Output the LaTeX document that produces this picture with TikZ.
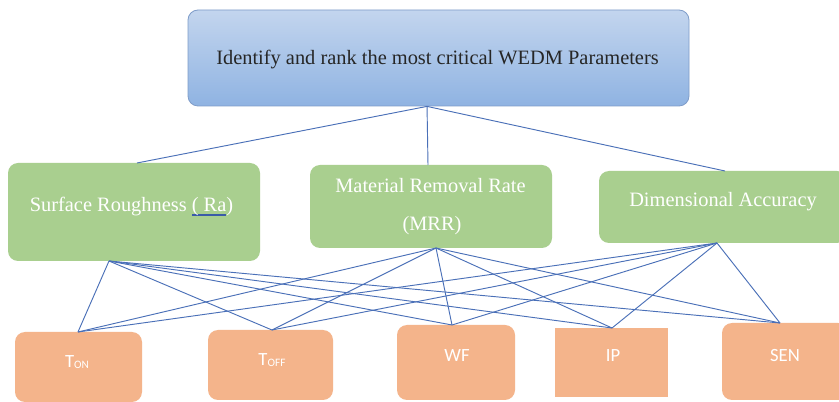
\documentclass[tikz,border=0pt]{standalone}
\usepackage{fontspec}
\setmainfont{Liberation Serif}
\newfontfamily\calibrifont{Carlito}

\definecolor{topA}{HTML}{C3D5EE}
\definecolor{topB}{HTML}{8FB3E2}
\definecolor{topedge}{HTML}{7E9CC9}
\definecolor{greenfill}{HTML}{A9CF8F}
\definecolor{orangefill}{HTML}{F4B48B}
\definecolor{linkblue}{HTML}{4A70B8}
\definecolor{ulblue}{HTML}{3A5BA8}

% spell-check style double underline
\newlength\ulwidth
\newcommand\spellul[1]{\settowidth{\ulwidth}{#1}%
  \rlap{\textcolor{ulblue}{\rule[-1.6pt]{\ulwidth}{0.45pt}}}%
  \rlap{\textcolor{ulblue}{\rule[-2.95pt]{\ulwidth}{0.45pt}}}#1}
\newcommand\subcaps[1]{\raisebox{-0.5pt}{\fontsize{8.5pt}{9pt}\selectfont #1}}

\begin{document}
\begin{tikzpicture}[x=0.75pt,y=-0.75pt,
  topbox/.style={rectangle, rounded corners=7.5pt, draw=topedge, line width=0.6pt,
    top color=topA, bottom color=topB, inner sep=0pt},
  greenbox/.style={rectangle, rounded corners=7.5pt, fill=greenfill, inner sep=0pt, outer sep=0pt},
  orangebox/.style={rectangle, rounded corners=7.5pt, fill=orangefill, inner sep=0pt, outer sep=0pt},
  squarebox/.style={rectangle, fill=orangefill, inner sep=0pt, outer sep=0pt},
  toptext/.style={font=\fontsize{15.3pt}{18pt}\selectfont, text=black!85, anchor=base, inner sep=0pt},
  greentext/.style={font=\fontsize{15.3pt}{18pt}\selectfont, text=white, anchor=base, inner sep=0pt},
  orangetext/.style={font=\calibrifont\fontsize{14pt}{16pt}\selectfont, text=white, anchor=base, inner sep=0pt},
  link/.style={draw=linkblue, line width=0.7pt}]

\fill[white] (0,0) rectangle (839,402);
\useasboundingbox (0,0) rectangle (839,402);

% goal
\node[topbox, minimum width=375.75pt, minimum height=72pt] (goal) at (438.5,58) {};
\node[toptext] (goaltext) at (437.5,65) {Identify and rank the most critical WEDM Parameters};

% responses
\node[greenbox, minimum width=189pt, minimum height=73.5pt] (sr) at (134,212) {};
\node[greenbox, minimum width=181.5pt, minimum height=62.25pt] (mrr) at (431,206.5) {};
\node[greenbox, minimum width=186pt, minimum height=54pt] (da) at (723,207) {};
\node[greentext] (srtext) at (131.5,212) {Surface Roughness \spellul{( Ra})};
\node[greentext] (mrrtextA) at (430.5,193) {Material Removal Rate};
\node[greentext] (mrrtextB) at (432,231) {(MRR)};
\node[greentext] (datext) at (723,207) {Dimensional Accuracy};

% process parameters
\node[orangebox, minimum width=95.25pt, minimum height=52.5pt] (ton) at (78.5,367) {};
\node[orangebox, minimum width=93.75pt, minimum height=52.5pt] (toff) at (270.5,365) {};
\node[orangebox, minimum width=88.5pt, minimum height=56.25pt] (wf) at (456,362.5) {};
\node[squarebox, minimum width=84.75pt, minimum height=51.75pt] (ip) at (611.5,362.5) {};
\node[orangebox, minimum width=94.5pt, minimum height=57.75pt] (sen) at (785,361.5) {};
\node[orangetext] (tontext) at (77,368) {T\subcaps{ON}};
\node[orangetext] (tofftext) at (272,366) {T\subcaps{OFF}};
\node[orangetext] (wftext) at (457,362) {WF};
\node[orangetext] (iptext) at (613,362) {IP};
\node[orangetext] (sentext) at (785,362) {SEN};

% attachment points
\coordinate (goalB) at ([xshift=-8.6pt]goal.south);
\coordinate (srT) at ([xshift=2.25pt]sr.north);
\coordinate (mrrT) at ([xshift=-2.25pt]mrr.north);
\coordinate (daT) at ([xshift=1.5pt]da.north);
\coordinate (srB) at ([xshift=-18.75pt]sr.south);
\coordinate (mrrB) at ([xshift=3.75pt]mrr.south);
\coordinate (daB) at ([xshift=-4.5pt]da.south);
\coordinate (tonT) at ([xshift=-0.4pt]ton.north);
\coordinate (toffT) at ([xshift=1.1pt]toff.north);
\coordinate (wfT) at ([xshift=-3pt]wf.north);
\coordinate (ipT) at ([xshift=0.4pt]ip.north);
\coordinate (senT) at ([xshift=-3.75pt]sen.north);

% connectors
\foreach \r in {srT,mrrT,daT} \draw[link] (goalB) -- (\r);
\foreach \r in {srB,mrrB,daB}
  \foreach \p in {tonT,toffT,wfT,ipT,senT}
    \draw[link] (\r) -- (\p);
\end{tikzpicture}
\end{document}
